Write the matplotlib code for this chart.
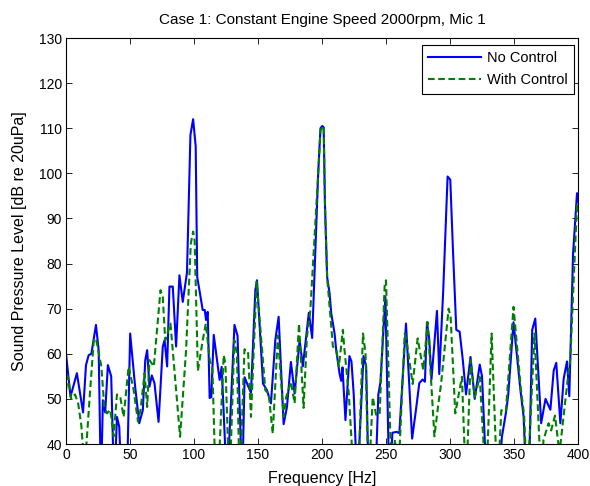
import matplotlib
matplotlib.use("Agg")
import matplotlib.pyplot as plt

# No Control (blue solid) - frequency [Hz] and level [dB]
freq_nc = [0, 3.5, 8.5, 13.3, 15.6, 17.7, 19.8, 23.4, 25.5, 27.3, 28.8, 30.6, 32.7, 35.3,
           37.6, 39.8, 41.6, 43.5, 47.5, 50.1, 54, 57.2, 60, 61.9, 63.4, 65.2, 67, 69.1,
           72.3, 75.6, 77, 79, 80.8, 83.4, 86, 88.6, 91.2, 94.5, 97.2, 99.3, 101.3, 102.5,
           106.8, 108.4, 109.4, 110.7, 112.2, 113.5, 115.4, 120, 121.6, 125.8, 131.6, 134,
           137.6, 139.5, 142.6, 144.5, 147.9, 149.2, 153.9, 157, 160.1, 163.5, 166.1, 170,
           172.6, 175.7, 178.6, 182.5, 185, 189.7, 192.3, 197, 198.8, 200.2, 201.3, 202.3,
           204, 205.9, 207.2, 209.8, 211.1, 213.7, 215, 216, 218.3, 221.4, 223, 224.8,
           227.5, 232.4, 234.5, 236.5, 241.5, 244, 245.6, 249.5, 252.6, 255, 258.4, 260.4,
           265.6, 270.4, 273.4, 276, 278.6, 280.4, 282, 283.8, 285.5, 289.8, 291.6, 294.7,
           298.1, 300.2, 302.3, 304.9, 307.5, 310, 312.5, 316, 319.3, 323.2, 325, 328.8,
           338, 340.5, 344, 345.5, 349.6, 355, 357.5, 359.8, 361.5, 364.2, 366.6, 371.2,
           374.6, 378.4, 381, 383, 386.2, 388.8, 391.4, 393.2, 396.1, 399.2, 401]
db_nc = [60, 50.5, 55.7, 47, 57.5, 59.7, 60, 66.4, 60.8, 30, 49.7, 47, 57.5, 55,
         30, 46, 43.8, 30, 30, 64.5, 52.7, 44.6, 47.5, 58.6, 60.8, 52.7, 55.2, 53.5,
         44.9, 61.6, 63, 57.2, 74.9, 74.9, 61.6, 77.4, 71.5, 78, 108.5, 112, 106, 77,
         69.7, 69.7, 67.5, 69.3, 50.2, 50.4, 64.2, 54.2, 57.1, 30, 66.4, 64,
         30, 54.8, 52.6, 51.4, 74.1, 76.3, 53.4, 51.9, 49, 63, 68.2, 44.4,
         48.2, 58.2, 51.2, 63, 57.2, 69.1, 63.5, 100, 110, 110.5, 110.2, 93,
         77, 73.4, 69, 64.5, 60.8, 55.6, 54, 57, 45.3, 59.5, 58.3, 50.9,
         30, 59.5, 57.2, 30, 30, 51, 53.6, 72.6, 30, 42.5, 42.7, 42.4,
         66.7, 41.2, 47.6, 53.5, 54.3, 53.8, 67, 63.2, 54.3, 69.5, 55.5, 74.1,
         99.3, 98.6, 83, 65.3, 64.9, 58.6, 51, 59.3, 50, 57.6, 55, 30,
         30, 41.5, 47.5, 51, 67, 52, 46, 30, 30, 65.3, 67.8, 44.6,
         50, 47.6, 56.3, 58, 44.6, 54.5, 58.3, 50.6, 82, 95.6, 92.6]

# With Control (green dashed)
freq_wc = [0, 1.5, 4, 7, 9.5, 12, 14.5, 18.7, 21.7, 23.4, 26, 27.6, 29.9, 32, 34.6,
           37.2, 39.8, 42.4, 45, 48.9, 52.8, 56.2, 58.2, 61.4, 63.4, 65.2, 68.6, 73.8,
           75.6, 77.5, 81.6, 89.1, 93.8, 97.5, 99.3, 100.5, 103, 106.8, 109.2, 112.3,
           114.4, 117, 118.5, 123.2, 124.5, 127.7, 131.5, 133.5, 135.7, 139.4, 142.2,
           144.5, 148.9, 155.7, 158.3, 161.5, 165.5, 170, 172, 175.7, 178.6, 182, 185.6,
           188.2, 190.8, 197, 198.8, 200.2, 201.3, 202.3, 204, 208.5, 211.1, 213.2, 216.3,
           217.3, 220.9, 225.3, 228, 232, 234, 236.3, 239.6, 242.2, 245, 249, 250, 254.3,
           257, 259.5, 264.6, 266, 270.8, 274.7, 279.1, 282.5, 287.8, 290.5, 293, 298.9,
           300.5, 304.1, 309.3, 312.5, 316.1, 319.3, 323.2, 328.2, 332.5, 337, 340.1,
           343.6, 349.6, 355.3, 357.9, 360.3, 366, 371.5, 373, 377, 379, 382, 385.5, 392,
           394, 399.2, 401]
db_wc = [52, 55, 50, 51, 49, 44, 34, 51.3, 63, 63.4, 59.5, 57.2, 48.2, 46.8, 47.6,
         41.7, 51, 50.4, 46, 57.2, 52, 45, 47.6, 55.7, 48.2, 58.6, 57.2, 74.1,
         72.6, 63, 66.7, 41.6, 60.8, 84.5, 87.1, 85, 56.2, 63, 66.7, 58.6,
         56.4, 30, 30, 59.7, 57.8, 30, 63, 60, 30, 61, 60.6,
         46, 76, 51.9, 51.2, 42.3, 64, 46, 50.4, 53.8, 49, 66.7, 48,
         63.8, 69.3, 100, 109.5, 110.3, 110.5, 93, 77, 61.6, 60.9, 57.2, 65.3,
         61.6, 51.2, 30, 30, 64.5, 60, 30, 50.4, 46.5, 46.5, 75.6, 76.3, 32,
         41, 32, 64.5, 63, 53.3, 63.4, 56.4, 67, 41.7, 48, 53.3, 70,
         68, 46.8, 54.9, 30, 58.6, 50.4, 54.9, 30, 64.5, 30, 47.5,
         47.2, 70.4, 52.3, 46.4, 30, 64.5, 30, 40.9, 44.6, 43, 46.3, 38, 54.5,
         59, 93.3, 90.7]

x_ticks = list(range(0, 401, 50))
y_ticks = list(range(40, 131, 10))

plt.rcParams['font.family'] = ['Liberation Sans', 'DejaVu Sans']

fig = plt.figure(figsize=(5.9, 4.86), dpi=100)
fig.patch.set_facecolor('white')
ax = fig.add_axes([0.1119, 0.0864, 0.8678, 0.8354])

ax.plot(freq_nc, db_nc, color='#0000ff', lw=1.5, label='No Control')
ax.plot(freq_wc, db_wc, color='#008000', lw=1.5, ls=(0, (3.2, 1.7)), label='With Control')

ax.set_xlim(0, 400)
ax.set_ylim(40, 130)
ax.set_xticks(x_ticks)
ax.set_yticks(y_ticks)
ax.tick_params(direction='in', top=True, right=True, length=4, width=0.6,
               labelsize=10, pad=3)
for s in ax.spines.values():
    s.set_linewidth(0.8)

ax.set_title('Case 1: Constant Engine Speed 2000rpm, Mic 1', fontsize=11, pad=10)
ax.set_xlabel('Frequency [Hz]', fontsize=11.5, labelpad=6)
ax.set_ylabel('Sound Pressure Level [dB re 20uPa]', fontsize=11.5, labelpad=8)

leg = ax.legend(loc='upper right', bbox_to_anchor=(0.992, 0.983), borderaxespad=0,
                fontsize=10.5, fancybox=False, framealpha=1, edgecolor='black',
                handlelength=3.6, handletextpad=0.4, borderpad=0.45, labelspacing=0.55)
leg.get_frame().set_linewidth(0.8)

fig.savefig('out.png', dpi=100)
